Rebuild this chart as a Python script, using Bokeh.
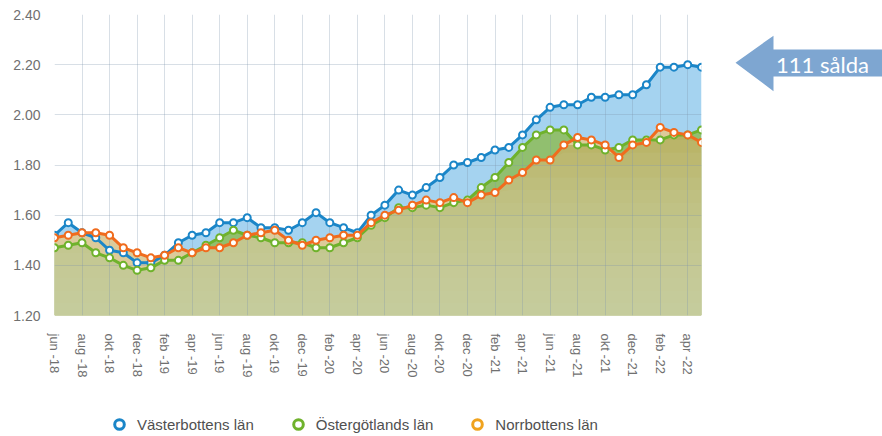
import numpy as np
from bokeh.plotting import figure
from bokeh.models import Range1d, FixedTicker, Legend, LegendItem, NumeralTickFormatter
from bokeh.layouts import row, column
from bokeh.embed import file_html
from bokeh.resources import INLINE
from bokeh.core.properties import value

months = ["jun -18", "jul -18", "aug -18", "sep -18", "okt -18", "nov -18", "dec -18",
          "jan -19", "feb -19", "mar -19", "apr -19", "maj -19", "jun -19", "jul -19",
          "aug -19", "sep -19", "okt -19", "nov -19", "dec -19", "jan -20", "feb -20",
          "mar -20", "apr -20", "maj -20", "jun -20", "jul -20", "aug -20", "sep -20",
          "okt -20", "nov -20", "dec -20", "jan -21", "feb -21", "mar -21", "apr -21",
          "maj -21", "jun -21", "jul -21", "aug -21", "sep -21", "okt -21", "nov -21",
          "dec -21", "jan -22", "feb -22", "mar -22", "apr -22", "maj -22"]

vasterbotten = [1.52, 1.57, 1.53, 1.51, 1.46, 1.45, 1.41, 1.41, 1.44, 1.49, 1.52, 1.53,
                1.57, 1.57, 1.59, 1.55, 1.55, 1.54, 1.57, 1.61, 1.57, 1.55, 1.53, 1.60,
                1.64, 1.70, 1.68, 1.71, 1.75, 1.80, 1.81, 1.83, 1.86, 1.87, 1.92, 1.98,
                2.03, 2.04, 2.04, 2.07, 2.07, 2.08, 2.08, 2.12, 2.19, 2.19, 2.20, 2.19]
ostergotland = [1.47, 1.48, 1.49, 1.45, 1.43, 1.40, 1.38, 1.39, 1.42, 1.42, 1.45, 1.48,
                1.51, 1.54, 1.52, 1.51, 1.49, 1.49, 1.49, 1.47, 1.47, 1.49, 1.51, 1.56,
                1.59, 1.63, 1.63, 1.64, 1.63, 1.65, 1.66, 1.71, 1.75, 1.81, 1.87, 1.92,
                1.94, 1.94, 1.88, 1.88, 1.86, 1.87, 1.90, 1.90, 1.90, 1.92, 1.92, 1.94]
norrbotten = [1.51, 1.52, 1.53, 1.53, 1.52, 1.47, 1.45, 1.43, 1.44, 1.47, 1.45, 1.47,
              1.47, 1.49, 1.52, 1.53, 1.54, 1.50, 1.48, 1.50, 1.51, 1.52, 1.52, 1.57,
              1.60, 1.62, 1.64, 1.66, 1.65, 1.67, 1.65, 1.68, 1.69, 1.74, 1.77, 1.82,
              1.82, 1.88, 1.91, 1.90, 1.88, 1.83, 1.88, 1.89, 1.95, 1.93, 1.92, 1.89]

series_names = ["Västerbottens län", "Östergötlands län", "Norrbottens län"]
y_ticks = [1.20, 1.40, 1.60, 1.80, 2.00, 2.20, 2.40]
annotation_text = "111 sålda"

Y_MIN, Y_MAX = 1.20, 2.40
x = np.arange(len(months))
vb = np.array(vasterbotten)
og = np.array(ostergotland)
nb = np.array(norrbotten)

BLUE, GREEN, ORANGE, AMBER = "#1b86c8", "#6fb22c", "#f06c1e", "#f0a31e"

p = figure(width=708, height=412, x_range=Range1d(0, len(months) - 1),
           y_range=Range1d(Y_MIN, Y_MAX), toolbar_location=None, output_backend="svg",
           min_border_left=54, min_border_right=7, min_border_top=14, min_border_bottom=97)
p.outline_line_color = None
p.background_fill_color = "white"

# fills
p.varea(x=x, y1=Y_MIN, y2=vb, fill_color="#a5d3f0", level="image")
p.varea(x=x, y1=Y_MIN, y2=og, fill_color="#91bf6f", level="image")
p.varea(x=x, y1=Y_MIN, y2=nb, fill_color="#dccb9a", level="image")
low = np.minimum(og, nb)
p.varea(x=x, y1=Y_MIN, y2=low, fill_color="#b6ad58", level="image")
for lev in np.linspace(Y_MIN, 1.95, 16)[1:]:
    p.varea(x=x, y1=Y_MIN, y2=np.minimum(low, lev), fill_color="#d2dbb0",
            fill_alpha=0.1, level="image")

# lines + markers
for ys, col in [(vb, BLUE), (og, GREEN), (nb, ORANGE)]:
    p.line(x, ys, line_color=col, line_width=3)
    p.scatter(x, ys, marker="circle", size=7, fill_color="white", line_color=col, line_width=2)

# axes
tick_idx = list(range(0, len(months), 2))
p.xaxis.ticker = FixedTicker(ticks=tick_idx)
p.xaxis.major_label_overrides = {i: months[i] for i in tick_idx}
p.xaxis.major_label_orientation = "vertical"
p.yaxis.ticker = FixedTicker(ticks=y_ticks)
p.yaxis.formatter = NumeralTickFormatter(format="0.00")
for ax in (p.xaxis[0], p.yaxis[0]):
    ax.axis_line_color = None
    ax.major_tick_line_color = None
    ax.minor_tick_line_color = None
    ax.major_label_text_color = "#707070"
    ax.major_label_text_font = "Liberation Sans"
p.xaxis.major_label_text_font_size = "13px"
p.xaxis.major_label_standoff = 12
p.yaxis.major_label_text_font_size = "14px"
p.yaxis.major_label_standoff = 8

for g in (p.xgrid[0], p.ygrid[0]):
    g.grid_line_color = "#7f94ad"
    g.grid_line_alpha = 0.3
    g.level = "underlay"

# arrow annotation panel
p2 = figure(width=174, height=412, x_range=Range1d(0, 174), y_range=Range1d(412, 0),
            toolbar_location=None, output_backend="svg", min_border=0,
            x_axis_location=None, y_axis_location=None)
p2.outline_line_color = None
p2.xgrid.visible = False
p2.ygrid.visible = False
p2.patch([27, 65, 65, 180, 180, 65, 65], [66, 29, 48, 48, 85, 85, 105],
         fill_color="#7ea6d1", line_color=None)
p2.text(x=[114], y=[68], text=[annotation_text], text_color="white",
        text_font=value("Lato"), text_font_size="22px",
        text_align="center", text_baseline="middle")

# legend strip (dummy markers sit outside the visible range; only legend glyphs show)
p3 = figure(width=882, height=24, x_range=Range1d(0, 1), y_range=Range1d(0, 1),
            toolbar_location=None, output_backend="svg", min_border=0,
            x_axis_location=None, y_axis_location=None)
p3.outline_line_color = None
p3.xgrid.visible = False
p3.ygrid.visible = False
leg_r = [p3.scatter([-5], [-5], marker="circle", size=10, fill_color="white",
                    line_color=c, line_width=3)
         for c in (BLUE, GREEN, AMBER)]
legend = Legend(items=[LegendItem(label=n, renderers=[r]) for n, r in zip(series_names, leg_r)],
                orientation="horizontal", location=(107, 0), border_line_color=None,
                background_fill_alpha=0, padding=0, margin=0, spacing=32,
                glyph_width=24, glyph_height=24, label_standoff=6,
                label_text_font_size="15px", label_text_color="#505050",
                label_text_font="Liberation Sans")
p3.add_layout(legend)

layout = column(row(p, p2), p3)
open("out.html", "w").write(file_html(layout, INLINE))
